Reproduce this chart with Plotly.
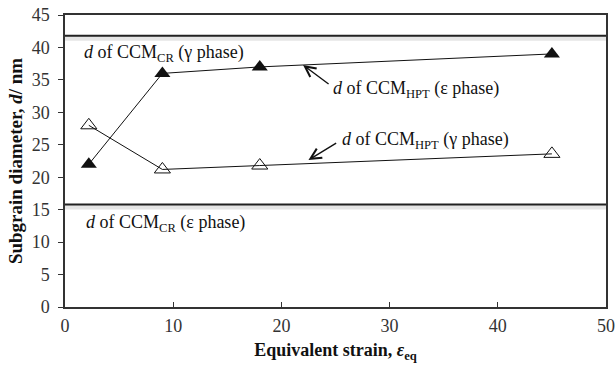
import plotly.graph_objects as go

strain = [2.2, 9, 18, 45]
d_hpt_eps = [22.0, 36.0, 37.0, 39.0]
d_hpt_gamma = [28.0, 21.2, 21.8, 23.6]
d_cr_gamma = 41.8
d_cr_eps = 15.8
x_range = [0, 50]
y_range = [0, 45]

FONT = "Liberation Serif"
fig = go.Figure()

for yv in [d_cr_gamma, d_cr_eps]:
    fig.add_trace(go.Scatter(x=x_range, y=[yv - 0.4, yv - 0.4], mode="lines",
                             line=dict(color="rgba(0,0,0,0.10)", width=5),
                             hoverinfo="skip", showlegend=False))
    fig.add_trace(go.Scatter(x=x_range, y=[yv, yv], mode="lines",
                             line=dict(color="#222", width=2.2),
                             showlegend=False))

fig.add_trace(go.Scatter(x=strain, y=d_hpt_gamma, mode="lines+markers",
                         line=dict(color="#111", width=1),
                         marker=dict(symbol="triangle-up-open", size=14,
                                     color="#111", line=dict(width=1)),
                         showlegend=False))
fig.add_trace(go.Scatter(x=strain, y=d_hpt_eps, mode="lines+markers",
                         line=dict(color="#111", width=1),
                         marker=dict(symbol="triangle-up", size=14, color="#111"),
                         showlegend=False))

txt = dict(font=dict(family=FONT, size=18, color="#111"), showarrow=False,
           xanchor="left", yanchor="middle", xref="x", yref="y")
fig.add_annotation(x=1.6, y=39.0, text="<i>d</i> of CCM<sub>CR</sub> (γ phase)", **txt)
fig.add_annotation(x=1.8, y=12.8, text="<i>d</i> of CCM<sub>CR</sub> (ε phase)", **txt)
fig.add_annotation(x=24.6, y=33.5, text="<i>d</i> of CCM<sub>HPT</sub> (ε phase)", **txt)
fig.add_annotation(x=25.4, y=25.7, text="<i>d</i> of CCM<sub>HPT</sub> (γ phase)", **txt)

arr = dict(text="", showarrow=True, arrowhead=5, arrowsize=1.5, arrowwidth=1.4,
           arrowcolor="#111", xref="x", yref="y", axref="x", ayref="y")
fig.add_annotation(x=22.0, y=37.3, ax=24.5, ay=34.2, **arr)
fig.add_annotation(x=22.5, y=22.65, ax=25.2, ay=25.4, **arr)

fig.update_layout(
    width=616, height=367, margin=dict(l=65, r=10, t=15, b=60),
    paper_bgcolor="white", plot_bgcolor="white",
    font=dict(family=FONT, size=18, color="#222"),
)
fig.update_xaxes(range=x_range, dtick=10, showgrid=False, zeroline=False,
                 showline=True, linecolor="#333", linewidth=1.5, mirror=True,
                 ticks="inside", ticklen=5, tickcolor="#333", automargin=False,
                 tickfont_family=FONT, tickfont_size=18, tickfont_color="#333",
                 ticklabelstandoff=2,
                 title_text="<b>Equivalent strain, <i>ε</i><sub>eq</sub></b>",
                 title_font_family=FONT, title_font_size=18, title_font_color="#111",
                 title_standoff=8)
fig.update_yaxes(range=y_range, dtick=5, showgrid=False, zeroline=False,
                 showline=True, linecolor="#333", linewidth=1.5, mirror=True,
                 ticks="outside", ticklen=5, tickcolor="#333", automargin=False,
                 tickfont_family=FONT, tickfont_size=18, tickfont_color="#333",
                 ticklabelstandoff=5,
                 title_text="<b>Subgrain diameter, <i>d</i>/ nm</b>",
                 title_font_family=FONT, title_font_size=19, title_font_color="#111",
                 title_standoff=4)

fig.write_html("out.html")
